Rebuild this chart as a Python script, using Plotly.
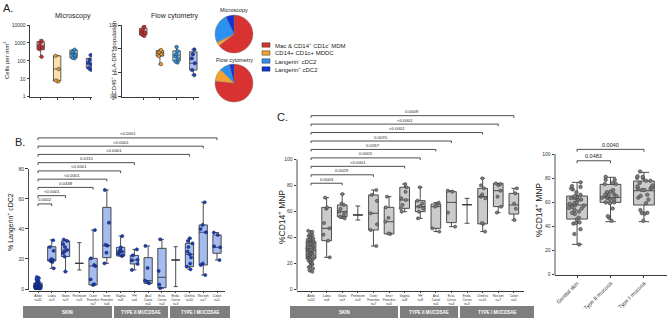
import plotly.graph_objects as go

W, H = 667, 319
FONT = "Liberation Sans, Arial, sans-serif"

# ---------------- Panel A data ----------------
a_pop = ["Mac &amp; CD14<sup>+</sup> CD1c<sup>-</sup> MDM", "CD14+ CD1c+ MDDC",
         "Langerin<sup>-</sup> cDC2", "Langerin<sup>+</sup> cDC2"]
micro_pts = [[1300, 1000, 650, 550, 450, 170], [190, 35, 8, 7],
             [420, 320, 250, 200, 150, 140], [210, 110, 75, 60, 40, 32]]
micro_q1 = [420, 7.5, 150, 39]
micro_med = [680, 35, 265, 74]
micro_q3 = [1180, 190, 400, 138]
micro_lo = [170, 7, 140, 31]
micro_hi = [1450, 195, 420, 214]
flow_pts = [[85, 65, 55, 48, 40, 35], [9, 7.5, 7, 6, 5, 2.3],
            [12, 8, 6, 5, 4, 3, 2.7], [9.5, 6, 4, 2.5, 1.3, 0.8]]
flow_q1 = [38, 5, 3.1, 1.3]
flow_med = [49, 6.9, 5.5, 2.5]
flow_q3 = [73, 8.5, 8.3, 7.6]
flow_lo = [35, 2.3, 2.6, 0.8]
flow_hi = [85, 9, 12.3, 9.5]
micro_ticks = [1, 10, 100, 1000, 10000]
flow_ticks = [0.1, 1, 10, 100]

# ---------------- Panel B / C data ----------------
sites = ["Abdo", "Labia", "Glans", "Perineum", "Outer Foreskin", "Inner Foreskin", "Vagina", "FH",
         "Anal Canal", "Ecto-Cervix", "Endo-Cervix", "Urethra", "Rectum", "Colon"]
b_ticktext = ["Abdo<br>n=32", "Labia<br>n=9", "Glans<br>n=9", "Perineum<br>n=3", "Outer<br>Foreskin<br>n=7",
              "Inner<br>Foreskin<br>n=6", "Vagina<br>n=8", "FH<br>n=6", "Anal<br>Canal<br>n=5",
              "Ecto-<br>Cervix<br>n=4", "Endo-<br>Cervix<br>n=3", "Urethra<br>n=10", "Rectum<br>n=7", "Colon<br>n=5"]
c_ticktext = ["Abdo<br>n=53", "Labia<br>n=8", "Glans<br>n=9", "Perineum<br>n=3", "Outer<br>Foreskin<br>n=7",
              "Inner<br>Foreskin<br>n=6", "Vagina<br>n=8", "FH<br>n=8", "Anal<br>Canal<br>n=5",
              "Ecto-<br>Cervix<br>n=4", "Endo-<br>Cervix<br>n=3", "Urethra<br>n=10", "Rectum<br>n=7", "Colon<br>n=5"]
groups = ["SKIN", "TYPE II MUCOSAE", "TYPE I MUCOSAE"]
no_point_sites = ["Perineum", "Endo-Cervix"]

b_pts = [
    [0.2, 0.4, 0.5, 0.6, 0.8, 0.9, 1.0, 1.1, 1.2, 1.3, 1.5, 1.6, 1.8, 1.9, 2.0, 2.1,
     2.3, 2.5, 2.6, 2.8, 3.0, 3.2, 3.5, 3.7, 4.0, 4.3, 4.8, 5.2, 5.8, 6.5, 7.2, 8.0],
    [32.5, 28, 25.5, 20, 19.3, 19, 18.5, 18, 13.8],
    [33, 32, 30, 28, 26, 25, 24, 21.6, 11.6],
    [30.9, 17.1, 12.7],
    [39.3, 20.4, 16, 15.3, 6.4, 3.2, 2.7],
    [66, 44.2, 29.5, 28.9, 24.2, 17.1],
    [35.3, 27.8, 26, 25, 24.9, 23.5, 22.5, 22],
    [26.4, 22.4, 19.5, 19.1, 16.7, 12.7],
    [28.7, 14, 5.6, 4.5, 3.8],
    [33.1, 12, 3, 0.5],
    [28.2, 19.3, 1.6],
    [33.8, 32, 30.4, 28, 25, 23.1, 21, 17, 14.9, 13.1],
    [57.8, 42.7, 40, 37.8, 17, 16, 9.3],
    [37.6, 36, 28.5, 27.8, 19.3],
]
b_q1 = [1, 18.7, 21.6, 17.1, 2.7, 20.9, 22, 16.7, 3.8, 0.9, 19.3, 14.9, 16, 23.8]
b_med = [2, 19.3, 26, 17.1, 15.3, 28.9, 24.9, 19.3, 5.6, 7.8, 19.3, 23.1, 37.8, 27.8]
b_q3 = [4, 28.2, 32, 17.1, 20.4, 54.4, 27.8, 22.4, 20.9, 27.1, 19.3, 30.4, 42.7, 36]
b_lo = [0, 13.8, 11.6, 12.7, 2.7, 17.1, 22, 12.7, 3.8, 0.5, 1.6, 13.1, 9.3, 19.3]
b_hi = [8, 32.7, 32.7, 30.9, 39.3, 66, 35.3, 26.4, 28.7, 33.1, 28.2, 33.8, 57.8, 37.6]
b_cmp_site = ["Labia", "Glans", "Outer Foreskin", "Inner Foreskin", "Vagina", "FH", "Urethra", "Rectum", "Colon"]
b_cmp_p = ["0.0002", "&lt;0.0001", "0.0438", "&lt;0.0001", "&lt;0.0001", "0.0115",
           "&lt;0.0001", "&lt;0.0001", "&lt;0.0001"]

c_pts = [
    [13.5, 14.5, 16, 17, 18, 19, 20, 20.5, 21, 22, 22.5, 23, 23.5, 24, 24.5, 25, 25.5, 26,
     26.5, 27, 27.5, 28, 28.5, 29, 29.5, 30, 30, 30.5, 31, 31.5, 32, 32.5, 33, 33.5, 34, 34.5,
     35, 35.5, 36, 36.5, 37, 37.5, 38, 38.5, 39, 40, 41, 41.5, 42, 43, 44, 45, 38],
    [70.5, 63, 62, 51, 46.9, 42, 37.4, 24.6],
    [73.3, 66, 64.9, 62, 59.7, 59, 57, 55.9, 54.6],
    [64.1, 57.2, 53.3],
    [76.4, 72.6, 68, 58.5, 50, 45.6, 33.3],
    [71.3, 63.1, 55, 52, 43, 42.6],
    [81, 78.5, 75, 70, 68.7, 65, 62.3, 59.7],
    [78.5, 68.2, 66, 64, 63.6, 62, 59.7, 54.6],
    [66.7, 65.6, 63.6, 46.9, 44.4],
    [75.9, 75.1, 59, 48.2],
    [70, 65.1, 50.8],
    [85.4, 80, 77.7, 73, 72, 71.3, 70, 51, 50.3, 44.4],
    [81.5, 81, 80, 75.9, 71.3, 63.6, 59],
    [77.7, 73.8, 66, 62, 53.3],
]
c_q1 = [23.8, 37.4, 55.9, 57.2, 45.6, 42.6, 62.3, 59.7, 46.9, 51.3, 65.1, 50.3, 63.6, 57.9]
c_med = [30, 46.9, 59.7, 57.2, 58.5, 52, 68.7, 63.6, 63.6, 66.9, 65.1, 71.3, 75.9, 64.9]
c_q3 = [36.6, 63, 64.9, 57.2, 72.6, 63.1, 78.5, 68.2, 65.6, 75.1, 65.1, 77.7, 81.5, 73.8]
c_lo = [13.5, 24.6, 54.6, 53.3, 33.3, 42.6, 59.7, 54.6, 44.4, 48.2, 50.8, 44.4, 59, 53.3]
c_hi = [45, 70.5, 73.3, 64.1, 76.4, 71.3, 81, 78.5, 66.7, 75.9, 70, 85.4, 81.5, 77.7]
c_cmp_site = ["Glans", "Outer Foreskin", "Vagina", "FH", "Anal Canal", "Ecto-Cervix", "Urethra", "Rectum", "Colon"]
c_cmp_p = ["0.0003", "0.0029", "&lt;0.0001", "0.0005", "0.0267", "0.0070", "&lt;0.0001", "&lt;0.0001", "0.0009"]

# ---------------- Panel D data (pooled from C) ----------------
d_cats = ["Genital skin", "Type II mucosa", "Type I mucosa"]
d_members = [["Labia", "Glans", "Perineum", "Outer Foreskin", "Inner Foreskin"],
             ["Vagina", "FH", "Anal Canal", "Ecto-Cervix"],
             ["Endo-Cervix", "Urethra", "Rectum", "Colon"]]
d_q1 = [45.8, 59.7, 57.5]
d_med = [57.5, 63.9, 69.4]
d_q3 = [65, 74.7, 77.5]
d_lo = [24.7, 43.6, 43.6]
d_hi = [76.4, 80.6, 84.7]
d_cmp_cat = ["Type II mucosa", "Type I mucosa"]
d_cmp_p = ["0.0483", "0.0040"]

# ---------------- helpers ----------------
def px(x):
    return x / W


def py(y):
    return 1 - y / H


LINE = "#3a3a3a"
fig = go.Figure()
shapes = []
annots = []


def add_boxes(xa, ya, xs, q1, med, q3, lo, hi, fill, width, lw=0.8):
    fig.add_trace(go.Box(x=xs, q1=q1, median=med, q3=q3, lowerfence=lo, upperfence=hi,
                         xaxis=xa, yaxis=ya, fillcolor=fill, line=dict(color=LINE, width=lw),
                         width=width, whiskerwidth=0.5, boxpoints=False, showlegend=False,
                         hoverinfo="skip"))


def add_points(xa, ya, xs, ys, color, size, width, jitter=0.7, lc="#222"):
    fig.add_trace(go.Box(x=xs, y=ys, xaxis=xa, yaxis=ya, boxpoints="all", jitter=jitter, pointpos=0,
                         fillcolor="rgba(0,0,0,0)", line=dict(width=0, color="rgba(0,0,0,0)"),
                         width=width, showlegend=False, hoverinfo="skip",
                         marker=dict(color=color, size=size, line=dict(color=lc, width=0.5))))


def txt(x, y, s, size, **kw):
    d = dict(x=px(x), y=py(y), xref="paper", yref="paper", text=s, showarrow=False,
             xanchor="center", yanchor="middle",
             font=dict(size=size, color=kw.pop("color", "#222"), family=FONT))
    d.update(kw)
    annots.append(d)


# ---------------- Panel A ----------------
a_fill = ["#f6b3b3", "#fbe0ae", "#a9dcf2", "#a9bdf0"]
a_pt = ["#d92b2b", "#f0a02a", "#2a96e8", "#1a3fd0"]
pie_col = ["#d83232", "#f3a22f", "#2b90f0", "#1232d8"]
for i in range(4):
    add_boxes("x", "y", [i], [micro_q1[i]], [micro_med[i]], [micro_q3[i]], [micro_lo[i]], [micro_hi[i]],
              a_fill[i], 0.45)
    add_boxes("x2", "y2", [i], [flow_q1[i]], [flow_med[i]], [flow_q3[i]], [flow_lo[i]], [flow_hi[i]],
              a_fill[i], 0.45)
for i in range(4):
    add_points("x", "y", [i] * len(micro_pts[i]), micro_pts[i], a_pt[i], 3.5, 0.45, jitter=0.5)
    add_points("x2", "y2", [i] * len(flow_pts[i]), flow_pts[i], a_pt[i], 3.5, 0.45, jitter=0.5)

fig.add_trace(go.Pie(values=micro_med, labels=a_pop, marker=dict(colors=pie_col, line=dict(color="#777", width=0.4)),
                     sort=False, direction="clockwise", textinfo="none", showlegend=False, hoverinfo="skip",
                     domain=dict(x=[px(215), px(253)], y=[py(53), py(15)])))
fig.add_trace(go.Pie(values=flow_med, labels=a_pop, marker=dict(colors=pie_col, line=dict(color="#777", width=0.4)),
                     sort=False, direction="clockwise", textinfo="none", showlegend=False, hoverinfo="skip",
                     domain=dict(x=[px(215), px(253)], y=[py(102), py(64)])))

# legend
for i, lab in enumerate(a_pop):
    yc = 45 + i * 8
    shapes.append(dict(type="rect", xref="paper", yref="paper", x0=px(262), x1=px(270),
                       y0=py(yc + 2.2), y1=py(yc - 2.2), fillcolor=pie_col[i], line=dict(color="#333", width=0.5)))
    txt(273, yc, lab, 6, xanchor="left")

txt(234, 10, "Microscopy", 5.5)
txt(234, 60, "Flow cytometry", 5.5)
txt(1, 8, "A.", 11, xanchor="left")
txt(73, 16, "Microscopy", 7)
txt(175, 16, "Flow cytometry", 7)
txt(6, 60, "Cells per mm<sup>2</sup>", 6, textangle=-90)
txt(113, 60, "%CD45<sup>+</sup> HLA-DR<sup>+</sup> population", 6, textangle=-90)

# ---------------- Panel B ----------------
nb = len(sites)
b_fill = "#a6bcf0"
add_boxes("x3", "y3", list(range(nb)), b_q1, b_med, b_q3, b_lo, b_hi, b_fill, 0.6, lw=0.9)
bx, by = [], []
for i, s in enumerate(sites):
    if s in no_point_sites:
        continue
    bx += [i] * len(b_pts[i])
    by += b_pts[i]
add_points("x3", "y3", bx, by, "#1c3fb8", 3.2, 0.6, jitter=0.8, lc="#10205a")

# ---------------- Panel C ----------------
add_boxes("x4", "y4", list(range(nb)), c_q1, c_med, c_q3, c_lo, c_hi, "#cbcbcb", 0.62, lw=0.9)
cx, cy = [], []
for i, s in enumerate(sites):
    if s in no_point_sites:
        continue
    cx += [i] * len(c_pts[i])
    cy += c_pts[i]
add_points("x4", "y4", cx, cy, "#7d7d7d", 3.2, 0.62, jitter=0.8, lc="#333")

# ---------------- Panel D ----------------
add_boxes("x5", "y5", [0, 1, 2], d_q1, d_med, d_q3, d_lo, d_hi, "#cbcbcb", 0.62, lw=0.9)
dx, dy = [], []
for k, mem in enumerate(d_members):
    for s in mem:
        v = c_pts[sites.index(s)]
        dx += [k] * len(v)
        dy += v
add_points("x5", "y5", dx, dy, "#7d7d7d", 3.6, 0.62, jitter=0.85, lc="#333")


# brackets
def brackets(xa, ya, targets, labels, base, step, tick, fsize, index_of):
    for k, (t, lab) in enumerate(zip(targets, labels)):
        h = base + k * step
        j = index_of(t)
        for (x0, x1, y0, y1) in [(0, j, h, h), (0, 0, h - tick, h), (j, j, h - tick, h)]:
            shapes.append(dict(type="line", xref=xa, yref=ya, x0=x0, x1=x1, y0=y0, y1=y1,
                               line=dict(color=LINE, width=0.9)))
        annots.append(dict(x=j / 2, y=h, xref=xa, yref=ya, text=lab, showarrow=False, yanchor="bottom",
                           xanchor="center", yshift=-0.5, font=dict(size=fsize, color="#222", family=FONT)))


brackets("x3", "y3", b_cmp_site, b_cmp_p, 56.7, 5.5, 1.5, 4.3, sites.index)
brackets("x4", "y4", c_cmp_site, c_cmp_p, 81.6, 6.5, 1.6, 4.3, sites.index)
brackets("x5", "y5", d_cmp_cat, d_cmp_p, 94.4, 9.5, 2.0, 5.5, d_cats.index)

# y-axis lines limited to the tick range
for ref, y0, y1 in [("3", -1, 80), ("4", -1, 100), ("5", -1, 100)]:
    shapes.append(dict(type="line", xref="x%s domain" % ref, yref="y" + ref, x0=0, x1=0, y0=y0, y1=y1,
                       line=dict(color=LINE, width=0.9)))

# group bars
for (x0, x1), g in zip([(23, 112), (114, 168), (170, 230)], groups):
    shapes.append(dict(type="rect", xref="paper", yref="paper", x0=px(x0), x1=px(x1), y0=py(318), y1=py(306),
                       fillcolor="#7f7f7f", line=dict(width=0)))
    txt((x0 + x1) / 2, 312, "<b>%s</b>" % g, 4.5, color="white")
for (x0, x1), g in zip([(290, 398), (400, 458), (460, 534)], groups):
    shapes.append(dict(type="rect", xref="paper", yref="paper", x0=px(x0), x1=px(x1), y0=py(318), y1=py(306),
                       fillcolor="#7f7f7f", line=dict(width=0)))
    txt((x0 + x1) / 2, 312, "<b>%s</b>" % g, 4.5, color="white")

txt(20, 142, "B.", 11)
txt(282, 117, "C.", 11)
txt(10, 222, "% Langerin<sup>+</sup> cDC2", 7, textangle=-90)
txt(281, 217, "%CD14<sup>+</sup> MNP", 8.5, textangle=-90)
txt(538, 210, "%CD14<sup>+</sup> MNP", 8.5, textangle=-90)

# ---------------- axes ----------------
tickfont = dict(size=5, color="#333", family=FONT)


def xax(dom, rng, anchor, **kw):
    d = dict(domain=[px(dom[0]), px(dom[1])], range=rng, anchor=anchor, showline=True, linecolor=LINE,
             linewidth=0.9, ticks="outside", ticklen=2, tickcolor=LINE, tickwidth=0.8, showgrid=False,
             zeroline=False, tickfont=tickfont, automargin=False, tickangle=0)
    d.update(kw)
    return d


def yax(dom, rng, anchor, **kw):
    d = dict(domain=[py(dom[1]), py(dom[0])], range=rng, anchor=anchor, showline=True, linecolor=LINE,
             linewidth=0.9, ticks="outside", ticklen=2.5, tickcolor=LINE, tickwidth=0.8, showgrid=False,
             zeroline=False, tickfont=tickfont, automargin=False)
    d.update(kw)
    return d


small = dict(size=3.2, color="#333", family=FONT)
layout = dict(
    template="none",
    width=W, height=H, margin=dict(l=0, r=0, t=0, b=0, pad=0), paper_bgcolor="white", plot_bgcolor="white",
    boxmode="overlay", showlegend=False, font=dict(family=FONT, color="#222"),
    xaxis=xax((30, 92), [-0.65, 3.12], "y", tickvals=[0, 1, 2, 3], showticklabels=False),
    yaxis=yax((25, 96.7), [0, 4], "x", type="log", tickvals=micro_ticks,
              ticktext=[str(v) for v in micro_ticks]),
    xaxis2=xax((121.7, 199), [-1.29, 3.34], "y2", tickvals=[0, 1, 2, 3], showticklabels=False),
    yaxis2=yax((25, 96.7), [-1, 2], "x2", type="log", tickvals=flow_ticks,
               ticktext=[str(v) for v in flow_ticks]),
    xaxis3=xax((28.5, 225), [-0.69, 13.58], "y3", tickvals=list(range(nb)), ticktext=b_ticktext,
               tickfont=small, ticklen=1.5),
    yaxis3=yax((128, 290.5), [-1, 107.3], "x3", showline=False, tickvals=[0, 20, 40, 60, 80]),
    xaxis4=xax((297, 524), [-0.9, 13.65], "y4", tickvals=list(range(nb)), ticktext=c_ticktext,
               tickfont=small, ticklen=1.5),
    yaxis4=yax((105, 290.6), [-1, 141.8], "x4", showline=False, tickvals=[0, 20, 40, 60, 80, 100]),
    xaxis5=xax((555, 667), [-0.66, 2.69], "y5", tickvals=[0, 1, 2], ticktext=d_cats, tickangle=-45,
               tickfont=dict(size=5.5, color="#333", family=FONT)),
    yaxis5=yax((140, 275.2), [-1, 111.7], "x5", showline=False, tickvals=[0, 20, 40, 60, 80, 100]),
    shapes=shapes, annotations=annots,
)
fig.update_layout(**layout)
fig.write_html("out.html", config={"displayModeBar": False},
               post_script="document.body.style.margin='0px';document.body.style.padding='0px';"
                           "document.body.style.overflow='hidden';")
